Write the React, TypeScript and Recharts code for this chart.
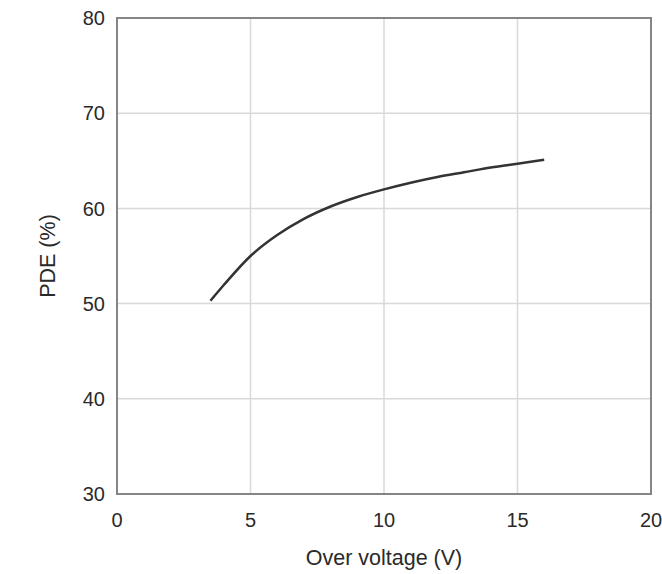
import React from "react";
import { LineChart, Line, XAxis, YAxis, CartesianGrid, ReferenceArea, Label } from "recharts";

const overVoltage = [3.5, 4, 5, 6, 7, 8, 9, 10, 11, 12, 13, 14, 15, 16];
const pde = [50.3, 51.95, 55.0, 57.2, 58.9, 60.2, 61.2, 62.0, 62.7, 63.3, 63.8, 64.3, 64.7, 65.1];
const xTicks = [0, 5, 10, 15, 20];
const yTicks = [30, 40, 50, 60, 70, 80];

const data = overVoltage.map((v, i) => ({ v, pde: pde[i] }));

const FONT = "'Liberation Sans', Arial, Helvetica, sans-serif";
const TEXT = "#2a2a2a";

const XLabel = (props: any) => {
  const vb = props.viewBox || {};
  return (
    <text x={vb.x + vb.width / 2} y={vb.y + 71} textAnchor="middle" fontFamily={FONT} fontSize={21.5} fill={TEXT}>
      Over voltage (V)
    </text>
  );
};

const YLabel = (props: any) => {
  const vb = props.viewBox || {};
  const cx = vb.x + 55;
  const cy = vb.y + vb.height / 2;
  return (
    <text x={cx} y={cy} transform={`rotate(-90 ${cx} ${cy})`} textAnchor="middle" fontFamily={FONT} fontSize={21.5} fill={TEXT}>
      PDE (%)
    </text>
  );
};

export default function App() {
  return (
    <div>
      <style>{`body{margin:0;background:#fff}`}</style>
      <LineChart width={662} height={574} data={data} margin={{ top: 18, right: 11, bottom: 50, left: 0 }}>
        <CartesianGrid stroke="#d9d9d9" strokeWidth={1.5} />
        <XAxis
          dataKey="v"
          type="number"
          domain={[0, 20]}
          ticks={xTicks}
          height={30}
          axisLine={false}
          tickLine={false}
          tickSize={6}
          tickMargin={13}
          tick={{ fontFamily: FONT, fontSize: 20, fill: TEXT }}
          interval={0}
        >
          <Label content={<XLabel />} />
        </XAxis>
        <YAxis
          type="number"
          domain={[30, 80]}
          ticks={yTicks}
          width={117}
          axisLine={false}
          tickLine={false}
          tickSize={6}
          tickMargin={6}
          tick={{ fontFamily: FONT, fontSize: 20, fill: TEXT }}
          interval={0}
        >
          <Label content={<YLabel />} />
        </YAxis>
        <ReferenceArea x1={0} x2={20} y1={30} y2={80} fill="none" stroke="#858585" strokeWidth={2} ifOverflow="visible" />
        <Line
          dataKey="pde"
          type="monotone"
          stroke="#333333"
          strokeWidth={2.5}
          dot={false}
          isAnimationActive={false}
        />
      </LineChart>
    </div>
  );
}
